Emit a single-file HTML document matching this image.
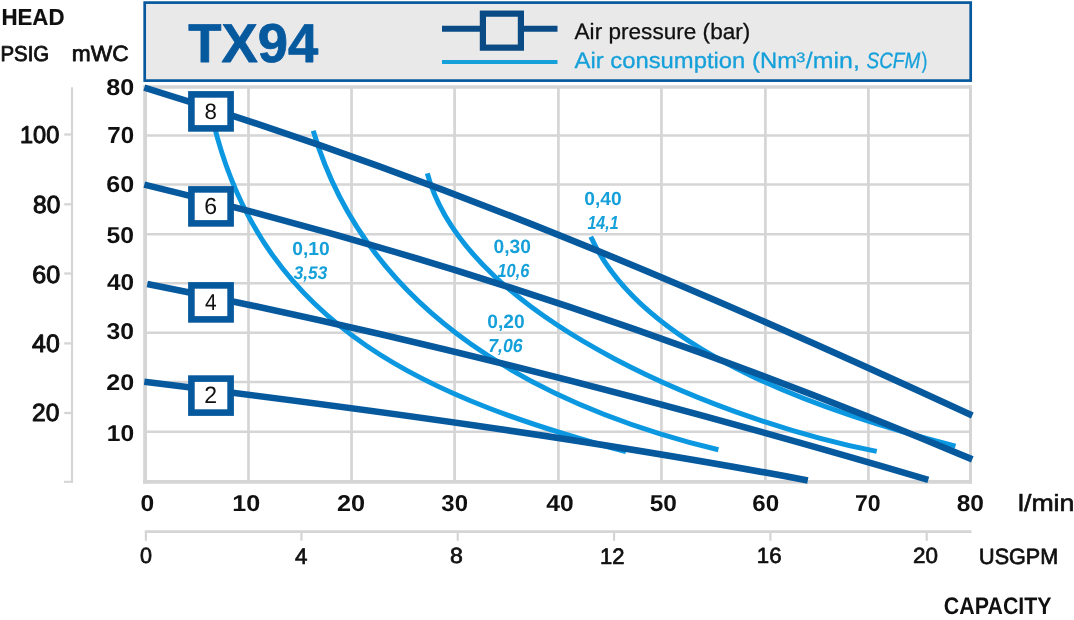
<!DOCTYPE html>
<html><head><meta charset="utf-8"><title>TX94</title>
<style>html,body{margin:0;padding:0;background:#fff;}body{width:1074px;height:620px;position:relative;overflow:hidden;font-family:"Liberation Sans",sans-serif;}</style></head>
<body>
<svg width="1074" height="620" viewBox="0 0 1074 620" style="position:absolute;left:0;top:0;font-family:'Liberation Sans',sans-serif">
<rect x="0" y="0" width="1074" height="620" fill="#ffffff"/>
<line x1="248.50" y1="87" x2="248.50" y2="481.8" stroke="#d5d5d5" stroke-width="2.7"/>
<line x1="351.55" y1="87" x2="351.55" y2="481.8" stroke="#d5d5d5" stroke-width="2.7"/>
<line x1="454.60" y1="87" x2="454.60" y2="481.8" stroke="#d5d5d5" stroke-width="2.7"/>
<line x1="558.40" y1="87" x2="558.40" y2="481.8" stroke="#d5d5d5" stroke-width="2.7"/>
<line x1="661.45" y1="87" x2="661.45" y2="481.8" stroke="#d5d5d5" stroke-width="2.7"/>
<line x1="765.40" y1="87" x2="765.40" y2="481.8" stroke="#d5d5d5" stroke-width="2.7"/>
<line x1="868.40" y1="87" x2="868.40" y2="481.8" stroke="#d5d5d5" stroke-width="2.7"/>
<line x1="145" y1="431.80" x2="971" y2="431.80" stroke="#d5d5d5" stroke-width="2.5"/>
<line x1="145" y1="381.90" x2="971" y2="381.90" stroke="#d5d5d5" stroke-width="2.5"/>
<line x1="145" y1="332.70" x2="971" y2="332.70" stroke="#d5d5d5" stroke-width="2.5"/>
<line x1="145" y1="283.30" x2="971" y2="283.30" stroke="#d5d5d5" stroke-width="2.5"/>
<line x1="145" y1="234.30" x2="971" y2="234.30" stroke="#d5d5d5" stroke-width="2.5"/>
<line x1="145" y1="184.40" x2="971" y2="184.40" stroke="#d5d5d5" stroke-width="2.5"/>
<line x1="145" y1="135.40" x2="971" y2="135.40" stroke="#d5d5d5" stroke-width="2.5"/>
<line x1="143.2" y1="86.9" x2="972" y2="86.9" stroke="#d5d5d5" stroke-width="3.5"/>
<line x1="970.5" y1="85.2" x2="970.5" y2="483.8" stroke="#d5d5d5" stroke-width="3"/>
<line x1="145.1" y1="85.2" x2="145.1" y2="483.8" stroke="#d5d5d5" stroke-width="3.8"/>
<line x1="143.2" y1="481.9" x2="972" y2="481.9" stroke="#d5d5d5" stroke-width="3.9"/>
<line x1="72" y1="87.3" x2="72" y2="482.8" stroke="#d5d5d5" stroke-width="2.1"/>
<line x1="64" y1="481.8" x2="73" y2="481.8" stroke="#d5d5d5" stroke-width="2.1"/>
<line x1="64.2" y1="134.50" x2="72" y2="134.50" stroke="#d5d5d5" stroke-width="2.3"/>
<line x1="64.2" y1="204.30" x2="72" y2="204.30" stroke="#d5d5d5" stroke-width="2.3"/>
<line x1="64.2" y1="273.50" x2="72" y2="273.50" stroke="#d5d5d5" stroke-width="2.3"/>
<line x1="64.2" y1="343.40" x2="72" y2="343.40" stroke="#d5d5d5" stroke-width="2.3"/>
<line x1="64.2" y1="413.00" x2="72" y2="413.00" stroke="#d5d5d5" stroke-width="2.3"/>
<line x1="144.8" y1="531.7" x2="971.5" y2="531.7" stroke="#d5d5d5" stroke-width="2.8"/>
<line x1="145.90" y1="531" x2="145.90" y2="540.8" stroke="#d5d5d5" stroke-width="2.2"/>
<line x1="301.42" y1="531" x2="301.42" y2="540.8" stroke="#d5d5d5" stroke-width="2.2"/>
<line x1="457.74" y1="531" x2="457.74" y2="540.8" stroke="#d5d5d5" stroke-width="2.2"/>
<line x1="614.06" y1="531" x2="614.06" y2="540.8" stroke="#d5d5d5" stroke-width="2.2"/>
<line x1="770.38" y1="531" x2="770.38" y2="540.8" stroke="#d5d5d5" stroke-width="2.2"/>
<line x1="926.70" y1="531" x2="926.70" y2="540.8" stroke="#d5d5d5" stroke-width="2.2"/>
<path d="M213.3 122.0 C263.8 331.7 434.6 399.7 626.0 451.7" fill="none" stroke="#0c98e0" stroke-width="5.0"/>
<path d="M313.2 130.7 C368.3 316.4 543.3 407.4 718.4 449.8" fill="none" stroke="#0c98e0" stroke-width="5.0"/>
<path d="M427.3 173.4 C468.0 324.2 736.8 424.7 876.7 451.4" fill="none" stroke="#0c98e0" stroke-width="5.0"/>
<path d="M590.8 236.8 C646.0 357.9 844.1 417.6 955.5 446.2" fill="none" stroke="#0c98e0" stroke-width="5.0"/>
<path d="M144.3 87.7 C433.4 176.1 698.1 288.4 972.3 415.6" fill="none" stroke="#07599e" stroke-width="6.6"/>
<path d="M144.3 184.6 C428.4 252.8 703.7 346.2 972.3 459.4" fill="none" stroke="#07599e" stroke-width="6.6"/>
<path d="M147.3 283.9 C411.8 336.1 669.5 403.5 928.3 479.8" fill="none" stroke="#07599e" stroke-width="6.6"/>
<path d="M144.3 381.8 C366.6 409.0 587.3 438.9 807.8 480.4" fill="none" stroke="#07599e" stroke-width="6.6"/>
<rect x="144.7" y="2.6" width="826" height="78" fill="#e9e9e9" stroke="#07599e" stroke-width="2.7"/>
<line x1="442" y1="28.8" x2="557.5" y2="28.8" stroke="#0a4b85" stroke-width="6.0"/>
<rect x="482.9" y="13.65" width="38" height="34" fill="#e9e9e9" stroke="#0a4b85" stroke-width="6.2"/>
<line x1="442" y1="62.1" x2="557.5" y2="62.1" stroke="#16a0da" stroke-width="4"/>
<rect x="191.4" y="94.4" width="39.2" height="34" fill="#ffffff" stroke="#07599e" stroke-width="6.6"/>
<rect x="191.4" y="189.4" width="39.2" height="34" fill="#ffffff" stroke="#07599e" stroke-width="6.6"/>
<rect x="191.4" y="285.4" width="39.2" height="34" fill="#ffffff" stroke="#07599e" stroke-width="6.6"/>
<rect x="191.4" y="378.6" width="39.2" height="34" fill="#ffffff" stroke="#07599e" stroke-width="6.6"/>
<g style="filter:opacity(1)" text-rendering="geometricPrecision">
<text transform="matrix(0.22256 0 0 0.23182 1.41 24.60)" font-size="100" font-weight="bold" font-style="normal" fill="#101010" stroke="#101010" stroke-width="0.88" stroke-linejoin="round">HEAD</text>
<text transform="matrix(0.20386 0 0 0.21565 0.51 60.66)" font-size="100" font-weight="normal" font-style="normal" fill="#101010" stroke="#101010" stroke-width="3.81" stroke-linejoin="round">PSIG</text>
<text transform="matrix(0.22774 0 0 0.22044 71.78 61.00)" font-size="100" font-weight="normal" font-style="normal" fill="#101010" stroke="#101010" stroke-width="3.57" stroke-linejoin="round">mWC</text>
<text transform="matrix(0.25083 0 0 0.22957 106.22 95.44)" font-size="100" font-weight="bold" font-style="normal" fill="#101010">80</text>
<text transform="matrix(0.24122 0 0 0.23235 107.25 142.54)" font-size="100" font-weight="bold" font-style="normal" fill="#101010">70</text>
<text transform="matrix(0.25083 0 0 0.22957 106.22 192.14)" font-size="100" font-weight="bold" font-style="normal" fill="#101010">60</text>
<text transform="matrix(0.24712 0 0 0.22957 106.61 243.44)" font-size="100" font-weight="bold" font-style="normal" fill="#101010">50</text>
<text transform="matrix(0.24352 0 0 0.22957 107.00 290.34)" font-size="100" font-weight="bold" font-style="normal" fill="#101010">40</text>
<text transform="matrix(0.24712 0 0 0.22817 106.61 339.34)" font-size="100" font-weight="bold" font-style="normal" fill="#101010">30</text>
<text transform="matrix(0.25083 0 0 0.22539 106.22 390.35)" font-size="100" font-weight="bold" font-style="normal" fill="#101010">20</text>
<text transform="matrix(0.24572 0 0 0.22957 106.76 441.44)" font-size="100" font-weight="bold" font-style="normal" fill="#101010">10</text>
<text transform="matrix(0.23529 0 0 0.24209 20.03 142.82)" font-size="100" font-weight="normal" font-style="normal" fill="#101010" stroke="#101010" stroke-width="4.19" stroke-linejoin="round">100</text>
<text transform="matrix(0.24428 0 0 0.24626 33.04 212.82)" font-size="100" font-weight="normal" font-style="normal" fill="#101010" stroke="#101010" stroke-width="4.08" stroke-linejoin="round">80</text>
<text transform="matrix(0.25083 0 0 0.24904 32.32 282.51)" font-size="100" font-weight="normal" font-style="normal" fill="#101010" stroke="#101010" stroke-width="4.00" stroke-linejoin="round">60</text>
<text transform="matrix(0.24819 0 0 0.25043 32.11 352.41)" font-size="100" font-weight="normal" font-style="normal" fill="#101010" stroke="#101010" stroke-width="4.01" stroke-linejoin="round">40</text>
<text transform="matrix(0.24507 0 0 0.24765 32.05 421.11)" font-size="100" font-weight="normal" font-style="normal" fill="#101010" stroke="#101010" stroke-width="4.06" stroke-linejoin="round">20</text>
<text transform="matrix(0.24568 0 0 0.22957 140.43 511.44)" font-size="100" font-weight="bold" font-style="normal" fill="#101010">0</text>
<text transform="matrix(0.25067 0 0 0.22957 232.23 511.44)" font-size="100" font-weight="bold" font-style="normal" fill="#101010">10</text>
<text transform="matrix(0.25276 0 0 0.22957 337.01 511.44)" font-size="100" font-weight="bold" font-style="normal" fill="#101010">20</text>
<text transform="matrix(0.23955 0 0 0.22957 441.33 511.44)" font-size="100" font-weight="bold" font-style="normal" fill="#101010">30</text>
<text transform="matrix(0.24632 0 0 0.22957 546.20 511.44)" font-size="100" font-weight="bold" font-style="normal" fill="#101010">40</text>
<text transform="matrix(0.24428 0 0 0.22957 649.72 511.44)" font-size="100" font-weight="bold" font-style="normal" fill="#101010">50</text>
<text transform="matrix(0.24122 0 0 0.22957 752.25 511.44)" font-size="100" font-weight="bold" font-style="normal" fill="#101010">60</text>
<text transform="matrix(0.23065 0 0 0.22957 854.98 511.44)" font-size="100" font-weight="bold" font-style="normal" fill="#101010">70</text>
<text transform="matrix(0.24507 0 0 0.22957 956.63 511.44)" font-size="100" font-weight="bold" font-style="normal" fill="#101010">80</text>
<text transform="matrix(0.26648 0 0 0.23421 1018.08 511.35)" font-size="100" font-weight="normal" font-style="normal" fill="#101010" stroke="#101010" stroke-width="2.80" stroke-linejoin="round">l/min</text>
<text transform="matrix(0.21600 0 0 0.21983 139.97 563.21)" font-size="100" font-weight="normal" font-style="normal" fill="#101010" stroke="#101010" stroke-width="3.21" stroke-linejoin="round">0</text>
<text transform="matrix(0.22497 0 0 0.22471 295.10 563.55)" font-size="100" font-weight="normal" font-style="normal" fill="#101010" stroke="#101010" stroke-width="3.11" stroke-linejoin="round">4</text>
<text transform="matrix(0.23123 0 0 0.21983 449.93 563.21)" font-size="100" font-weight="normal" font-style="normal" fill="#101010" stroke="#101010" stroke-width="3.10" stroke-linejoin="round">8</text>
<text transform="matrix(0.22095 0 0 0.22471 600.07 563.55)" font-size="100" font-weight="normal" font-style="normal" fill="#101010" stroke="#101010" stroke-width="3.14" stroke-linejoin="round">12</text>
<text transform="matrix(0.22293 0 0 0.21983 756.76 563.21)" font-size="100" font-weight="normal" font-style="normal" fill="#101010" stroke="#101010" stroke-width="3.16" stroke-linejoin="round">16</text>
<text transform="matrix(0.22489 0 0 0.21983 913.00 563.21)" font-size="100" font-weight="normal" font-style="normal" fill="#101010" stroke="#101010" stroke-width="3.15" stroke-linejoin="round">20</text>
<text transform="matrix(0.21571 0 0 0.22122 979.10 564.00)" font-size="100" font-weight="normal" font-style="normal" fill="#101010" stroke="#101010" stroke-width="3.20" stroke-linejoin="round">USGPM</text>
<text transform="matrix(0.21401 0 0 0.24070 943.83 614.12)" font-size="100" font-weight="bold" font-style="normal" fill="#101010">CAPACITY</text>
<text transform="matrix(0.54371 0 0 0.54678 188.20 61.75)" font-size="100" font-weight="bold" font-style="normal" fill="#07599e" stroke="#07599e" stroke-width="1.47" stroke-linejoin="round">TX94</text>
<text transform="matrix(0.22593 0 0 0.22187 574.55 38.55)" font-size="100" font-weight="normal" font-style="normal" fill="#101010" stroke="#101010" stroke-width="1.34" stroke-linejoin="round">Air pressure (bar)</text>
<text transform="matrix(0.23825 0 0 0.22329 574.55 68.45)" font-size="100" font-weight="normal" font-style="normal" fill="#16a0da" stroke="#16a0da" stroke-width="1.30" stroke-linejoin="round">Air consumption (Nm</text>
<text transform="matrix(0.16310 0 0 0.13496 796.14 62.34)" font-size="100" font-weight="normal" font-style="normal" fill="#16a0da" stroke="#16a0da" stroke-width="2.01" stroke-linejoin="round">3</text>
<text transform="matrix(0.24949 0 0 0.22329 805.75 68.45)" font-size="100" font-weight="normal" font-style="normal" fill="#16a0da" stroke="#16a0da" stroke-width="1.27" stroke-linejoin="round">/min,</text>
<text transform="matrix(0.18917 0 0 0.22261 866.55 68.30)" font-size="100" font-weight="normal" font-style="italic" fill="#16a0da" stroke="#16a0da" stroke-width="1.46" stroke-linejoin="round">SCFM</text>
<text transform="matrix(0.16711 0 0 0.22329 921.85 68.45)" font-size="100" font-weight="normal" font-style="normal" fill="#16a0da" stroke="#16a0da" stroke-width="1.54" stroke-linejoin="round">)</text>
<text transform="matrix(0.22297 0 0 0.22122 204.60 119.15)" font-size="100" font-weight="normal" font-style="normal" fill="#101010">8</text>
<text transform="matrix(0.23040 0 0 0.23096 204.22 214.24)" font-size="100" font-weight="normal" font-style="normal" fill="#101010">6</text>
<text transform="matrix(0.20945 0 0 0.23040 204.97 310.10)" font-size="100" font-weight="normal" font-style="normal" fill="#101010">4</text>
<text transform="matrix(0.23040 0 0 0.23751 204.22 403.10)" font-size="100" font-weight="normal" font-style="normal" fill="#101010">2</text>
<text transform="matrix(0.19205 0 0 0.18967 292.20 254.54)" font-size="100" font-weight="bold" font-style="normal" fill="#16a0da">0,10</text>
<text transform="matrix(0.17140 0 0 0.18385 293.80 278.83)" font-size="100" font-weight="bold" font-style="italic" fill="#16a0da">3,53</text>
<text transform="matrix(0.19205 0 0 0.19316 493.50 252.58)" font-size="100" font-weight="bold" font-style="normal" fill="#16a0da">0,30</text>
<text transform="matrix(0.16365 0 0 0.19084 497.44 277.42)" font-size="100" font-weight="bold" font-style="italic" fill="#16a0da">10,6</text>
<text transform="matrix(0.19205 0 0 0.19316 487.20 327.58)" font-size="100" font-weight="bold" font-style="normal" fill="#16a0da">0,20</text>
<text transform="matrix(0.17724 0 0 0.18851 488.19 352.25)" font-size="100" font-weight="bold" font-style="italic" fill="#16a0da">7,06</text>
<text transform="matrix(0.19258 0 0 0.18967 584.20 204.54)" font-size="100" font-weight="bold" font-style="normal" fill="#16a0da">0,40</text>
<text transform="matrix(0.16031 0 0 0.18735 587.45 229.27)" font-size="100" font-weight="bold" font-style="italic" fill="#16a0da">14,1</text>
</g>
</svg>
</body></html>
